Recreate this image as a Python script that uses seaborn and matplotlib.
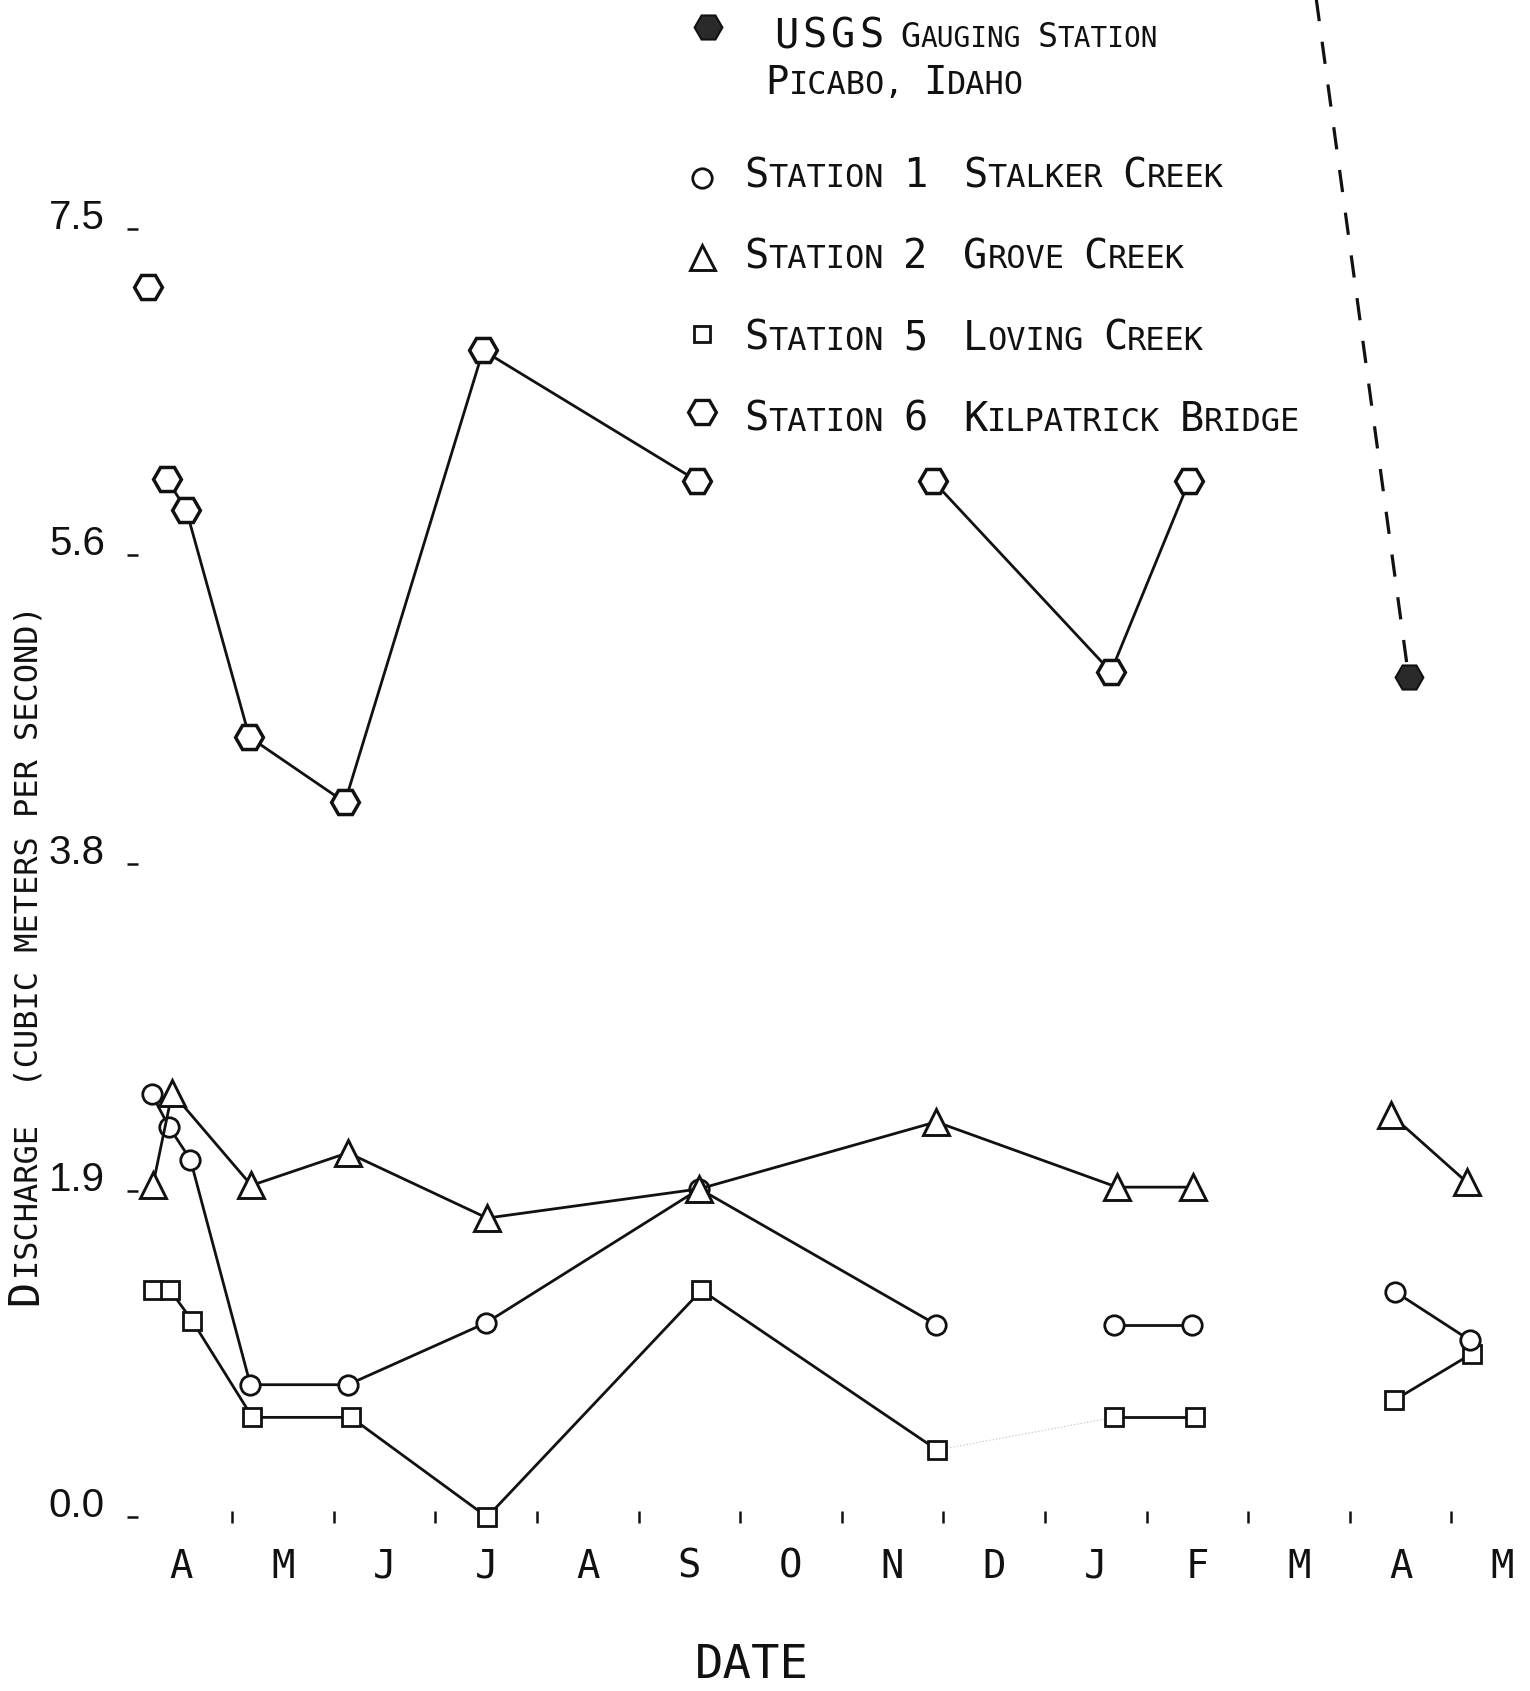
import numpy as np
import pandas as pd
import matplotlib
matplotlib.use("Agg")
import matplotlib.pyplot as plt
from matplotlib import font_manager as fm
import seaborn as sns
from matplotlib.offsetbox import TextArea, HPacker, DrawingArea, AnnotationBbox
from matplotlib.lines import Line2D

# ---------------------------------------------------------------- data
# x positions are months counted from 1 April of the first year
month_labels = ["A", "M", "J", "J", "A", "S", "O", "N", "D", "J", "F", "M", "A", "M"]
y_ticks = [0.0, 1.9, 3.8, 5.6, 7.5]
y_tick_labels = ["0.0", "1.9", "3.8", "5.6", "7.5"]

# Station 1 - Stalker Creek
st1_month = [0.21, 0.38, 0.59, 1.18, 2.14, 3.50, 5.60, 7.93, 9.68, 10.45, 12.45, 13.18]
st1_q = [2.46, 2.27, 2.08, 0.77, 0.77, 1.13, 1.91, 1.12, 1.12, 1.12, 1.31, 1.03]
st1_run = [0, 0, 0, 0, 0, 0, 0, 0, 1, 1, 2, 2]

# Station 2 - Grove Creek
st2_month = [0.22, 0.41, 1.19, 2.14, 3.51, 5.60, 7.93, 9.71, 10.46, 12.41, 13.15]
st2_q = [1.93, 2.47, 1.93, 2.12, 1.74, 1.91, 2.30, 1.92, 1.92, 2.34, 1.95]
st2_run = [0, 0, 0, 0, 0, 0, 0, 0, 0, 1, 1]

# Station 5 - Loving Creek
st5_month = [0.22, 0.39, 0.61, 1.20, 2.17, 3.51, 5.62, 7.94, 9.68, 10.48, 12.44, 13.20]
st5_q = [1.32, 1.32, 1.14, 0.58, 0.58, 0.00, 1.32, 0.39, 0.58, 0.58, 0.68, 0.95]
st5_run = [0, 0, 0, 0, 0, 0, 0, 0, 1, 1, 2, 2]

# Station 6 - Kilpatrick Bridge
st6_month = [0.17, 0.36, 0.55, 1.17, 2.11, 3.47, 5.58, 7.90, 9.65, 10.42]
st6_q = [7.16, 6.04, 5.86, 4.54, 4.16, 6.79, 6.03, 6.03, 4.92, 6.03]
st6_run = [0, 1, 1, 1, 1, 1, 1, 2, 2, 2]

# USGS gauging station, Picabo: earlier reading runs off the top of the scale
usgs_month = [11.61, 12.58]
usgs_q = [9.10, 4.89]

# ---------------------------------------------------------------- style
sns.set_theme(style="white")
MONO = "DejaVu Sans Mono"
plt.rcParams["font.family"] = [MONO, "DejaVu Sans"]
INK = "#111111"


def narrowest_family():
    for fam, tag in [("Liberation Sans Narrow", "Narrow"), ("Liberation Sans", "Liberation")]:
        try:
            path = fm.findfont(fm.FontProperties(family=fam), fallback_to_default=False)
        except Exception:
            continue
        if tag in path:
            return fam
    return "DejaVu Sans"


NARROW = narrowest_family()

W, H = 1530, 1691
fig = plt.figure(figsize=(W / 100, H / 100), dpi=100)
fig.patch.set_facecolor("white")

# pixel layout of the plotting frame
X0_PX, PX_PER_MONTH = 130.5, 101.6
Y0_PX_BOTTOM, PX_PER_UNIT = 174.0, 171.8
LEFT_PX, RIGHT_PX = 127.0, 1512.0
ax = fig.add_axes([LEFT_PX / W, 0.0, (RIGHT_PX - LEFT_PX) / W, 1.0])
ax.set_facecolor("white")

series = [
    (st6_month, st6_q, st6_run, dict(marker="H", markersize=20, mew=2.5)),
    (st5_month, st5_q, st5_run, dict(marker="s", markersize=13, mew=2.0)),
    (st1_month, st1_q, st1_run, dict(marker="o", markersize=14, mew=2.0)),
    (st2_month, st2_q, st2_run, dict(marker="^", markersize=19, mew=2.1)),
]

# faint pencil link between the November and January Loving Creek readings
link = pd.DataFrame({"month": st5_month[7:9], "discharge": st5_q[7:9]})
sns.lineplot(data=link, x="month", y="discharge", ax=ax, color="#c8c8c8",
             lw=0.9, ls=":", sort=False, legend=False)

for mx, q, run, mk in series:
    df = pd.DataFrame({"month": mx, "discharge": q, "run": run})
    sns.lineplot(data=df, x="month", y="discharge", units="run", estimator=None,
                 sort=False, legend=False, ax=ax, color=INK, lw=2.0,
                 markerfacecolor="white", markeredgecolor=INK, **mk)

usgs = pd.DataFrame({"month": usgs_month, "discharge": usgs_q})
sns.lineplot(data=usgs, x="month", y="discharge", ax=ax, sort=False, legend=False,
             color=INK, lw=2.3, ls=(0, (7, 6.5)), marker="H", markersize=20,
             markevery=[1], markerfacecolor="#2a2a2a", markeredgecolor=INK, mew=1.5)

# ---------------------------------------------------------------- axes
ax.set_xlim((LEFT_PX - X0_PX) / PX_PER_MONTH, (RIGHT_PX - X0_PX) / PX_PER_MONTH)
ax.set_ylim(-Y0_PX_BOTTOM / PX_PER_UNIT, (H - Y0_PX_BOTTOM) / PX_PER_UNIT)
for side in ["top", "right", "left", "bottom"]:
    ax.spines[side].set_visible(False)
ax.spines["bottom"].set_position(("data", 0.0))

ax.set_xticks(np.arange(len(month_labels)) + 0.5)
ax.set_xticklabels(month_labels, family=MONO, size=28, color=INK)
ax.set_xticks(np.arange(1, len(month_labels)), minor=True)
ax.tick_params(axis="x", which="major", length=0, pad=22)
ax.tick_params(axis="x", which="minor", direction="inout", length=9, width=1.8,
               color=INK, bottom=True)

ax.set_yticks(y_ticks)
ax.set_yticklabels(y_tick_labels, family=NARROW, size=29, color=INK)
ax.tick_params(axis="y", direction="in", length=8, width=1.8, pad=16, color=INK, left=True)
for lab in ax.get_yticklabels():
    lab.set_verticalalignment("baseline")

ax.set_xlabel("DATE", family=MONO, size=34, color=INK)
ax.xaxis.set_label_coords((751.5 - LEFT_PX) / (RIGHT_PX - LEFT_PX), 25 / H)
ax.xaxis.label.set_verticalalignment("center")
ax.set_ylabel("")

# y-axis title in small capitals
d_txt = fig.text(37 / W, 386 / H, "D", rotation=90, rotation_mode="anchor",
                 ha="left", va="baseline", size=30, family=MONO, color=INK)
ax.annotate("ISCHARGE  (CUBIC METERS PER SECOND)", xy=(37 / W, 1.0),
            xycoords=("figure fraction", d_txt), xytext=(0, 1), textcoords="offset points",
            rotation=90, rotation_mode="anchor", ha="left", va="baseline",
            size=23, family=MONO, color=INK, annotation_clip=False)

# ---------------------------------------------------------------- key
def caps_word(word, big, small):
    parts = [TextArea(word[0], textprops=dict(size=big, family=MONO, color=INK))]
    if len(word) > 1:
        parts.append(TextArea(word[1:], textprops=dict(size=small, family=MONO, color=INK)))
    return HPacker(children=parts, align="baseline", pad=0, sep=0)


def caps_line(text, big, small, gap):
    words = [caps_word(w, big, small) for w in text.split()]
    return HPacker(children=words, align="baseline", pad=0, sep=gap)


def place(box, x_px, y_px_top, align=(0, 0.5)):
    ab = AnnotationBbox(box, (x_px, H - y_px_top), xycoords="figure pixels",
                        box_alignment=align, frameon=False, pad=0, annotation_clip=False)
    fig.add_artist(ab)


def swatch(marker, ms, mew, face):
    side = ms + 8
    da = DrawingArea(side, side, 0, 0)
    da.add_artist(Line2D([side / 2], [side / 2], marker=marker, ms=ms, mew=mew,
                         mfc=face, mec=INK, ls="none"))
    return da


place(swatch("H", 20, 1.5, "#2a2a2a"), 708, 27, (0.5, 0.5))
usgs_line = HPacker(children=[caps_line("U S G S", 29, 29, 3),
                              caps_line("GAUGING STATION", 24, 20, 12)],
                    align="baseline", pad=0, sep=12)
place(usgs_line, 774, 36)
place(caps_line("PICABO, IDAHO", 28, 23, 14), 765, 83)

key_rows = [
    ("o", 14, 2.0, 178, "STATION 1", "STALKER CREEK"),
    ("^", 18, 2.1, 257, "STATION 2", "GROVE CREEK"),
    ("s", 12, 2.0, 334, "STATION 5", "LOVING CREEK"),
    ("H", 20, 2.4, 412, "STATION 6", "KILPATRICK BRIDGE"),
]
for i, (mk, ms, mew, y_mark, left_txt, right_txt) in enumerate(key_rows):
    y_txt = 176 + 81.3 * i
    place(swatch(mk, ms, mew, "white"), 702, y_mark, (0.5, 0.5))
    place(caps_line(left_txt, 29, 23, 14), 744, y_txt)
    place(caps_line(right_txt, 29, 23, 14), 963, y_txt)

fig.savefig("out.png", dpi=100, facecolor="white")
